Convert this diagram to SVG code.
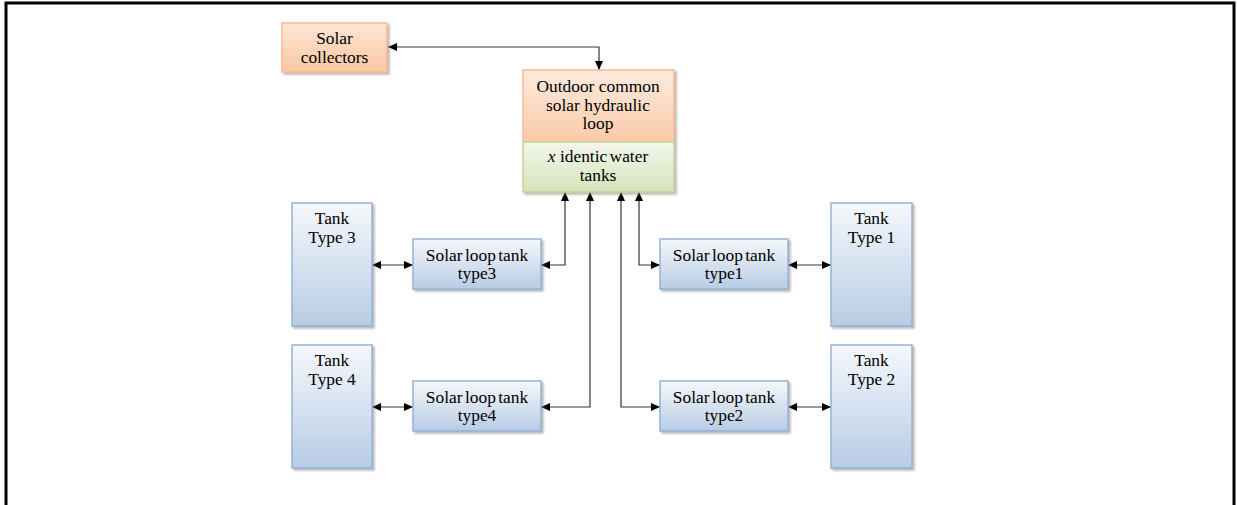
<svg xmlns="http://www.w3.org/2000/svg" width="1237" height="505" viewBox="0 0 1237 505">
<defs>
<linearGradient id="gBlue" x1="0" y1="0" x2="0" y2="1"><stop offset="0" stop-color="#f5f8fc"/><stop offset="1" stop-color="#b8cce4"/></linearGradient>
<linearGradient id="gOr" x1="0" y1="0" x2="0" y2="1"><stop offset="0" stop-color="#fde6d5"/><stop offset="1" stop-color="#fac7a2"/></linearGradient>
<linearGradient id="gOr2" x1="0" y1="0" x2="0" y2="1"><stop offset="0" stop-color="#fdebdf"/><stop offset="1" stop-color="#fbcaa8"/></linearGradient>
<linearGradient id="gGr" x1="0" y1="0" x2="0" y2="1"><stop offset="0" stop-color="#f3f7ec"/><stop offset="1" stop-color="#d6e3bb"/></linearGradient>
<filter id="sh" x="-10%" y="-10%" width="130%" height="130%"><feDropShadow dx="2" dy="2" stdDeviation="1" flood-color="#808080" flood-opacity="0.55"/></filter>
<marker id="ah" viewBox="0 0 9 8" refX="9" refY="4" markerWidth="9" markerHeight="8" markerUnits="userSpaceOnUse" orient="auto-start-reverse"><path d="M0,0 L9,4 L0,8 z" fill="#000"/></marker>
</defs>
<style>
text{font-size:17.4px;fill:#000;text-anchor:middle}
.blue{fill:url(#gBlue);stroke:#95b3d7;stroke-width:1.5;filter:url(#sh)}
.or{fill:url(#gOr);stroke:#f9b992;stroke-width:1.5;filter:url(#sh)}
.c{fill:none;stroke:#333;stroke-width:1.2;marker-start:url(#ah);marker-end:url(#ah)}
.ws{word-spacing:-2px}
</style>
<rect width="1237" height="505" fill="#fff"/>
<path d="M6,505 V3 H1234 V505" fill="none" stroke="#000" stroke-width="3"/>

<g id="connectors">
<path class="c" d="M388,47 H599 V70"/>
<path class="c" d="M565,192 V265 H541"/>
<path class="c" d="M590,192 V407 H541"/>
<path class="c" d="M621,192 V407 H660"/>
<path class="c" d="M639,192 V265 H660"/>
<path class="c" d="M372,265 H413"/>
<path class="c" d="M788,265 H831"/>
<path class="c" d="M372,407 H413"/>
<path class="c" d="M788,407 H831"/>
</g>

<g font-family="Liberation Serif, Tinos, DejaVu Serif, serif">
<g id="solar-collectors">
<rect class="or" x="282" y="23" width="105" height="49"/>
<text x="334.5" y="44">Solar</text>
<text x="334.5" y="63">collectors</text>
</g>

<g id="outdoor-loop">
<g filter="url(#sh)">
<rect x="523" y="70" width="151" height="72" fill="url(#gOr2)" stroke="#f9b992" stroke-width="1.5"/>
<rect x="523" y="142" width="151" height="50" fill="url(#gGr)" stroke="#c3d69b" stroke-width="1.5"/>
</g>
<text x="598" y="92">Outdoor common</text>
<text x="598" y="110.5">solar hydraulic</text>
<text x="598" y="129">loop</text>
<text x="598" y="162"><tspan font-style="italic">x</tspan> identic<tspan dx="-2"> water</tspan></text>
<text x="598" y="181">tanks</text>
</g>

<g id="tank-type3">
<rect class="blue" x="292" y="203" width="80" height="123"/>
<text x="332" y="224">Tank</text>
<text x="332" y="243">Type 3</text>
</g>
<g id="solar-loop-type3">
<rect class="blue" x="413" y="239" width="128" height="50"/>
<text x="477" y="261" class="ws">Solar loop tank</text>
<text x="477" y="279">type3</text>
</g>

<g id="tank-type4">
<rect class="blue" x="292" y="345" width="80" height="123"/>
<text x="332" y="366">Tank</text>
<text x="332" y="385">Type 4</text>
</g>
<g id="solar-loop-type4">
<rect class="blue" x="413" y="381" width="128" height="50"/>
<text x="477" y="403" class="ws">Solar loop tank</text>
<text x="477" y="421">type4</text>
</g>

<g id="solar-loop-type1">
<rect class="blue" x="660" y="239" width="128" height="50"/>
<text x="724" y="261" class="ws">Solar loop tank</text>
<text x="724" y="279">type1</text>
</g>
<g id="tank-type1">
<rect class="blue" x="831" y="203" width="81" height="123"/>
<text x="871.5" y="224">Tank</text>
<text x="871.5" y="243">Type 1</text>
</g>

<g id="solar-loop-type2">
<rect class="blue" x="660" y="381" width="128" height="50"/>
<text x="724" y="403" class="ws">Solar loop tank</text>
<text x="724" y="421">type2</text>
</g>
<g id="tank-type2">
<rect class="blue" x="831" y="345" width="81" height="123"/>
<text x="871.5" y="366">Tank</text>
<text x="871.5" y="385">Type 2</text>
</g>
</g>
</svg>
